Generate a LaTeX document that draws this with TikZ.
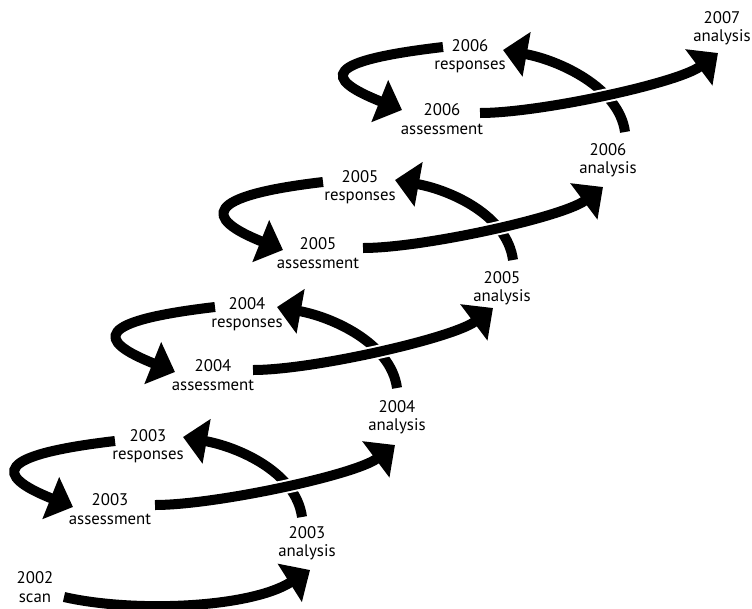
\documentclass[tikz,border=0pt]{standalone}
\usepackage{fontspec}
\setmainfont{PT Sans}
\usetikzlibrary{arrows.meta}
\tikzset{
  lbl/.style={align=center, inner sep=0pt, font=\fontsize{16.8}{18.5}\selectfont},
  flow/.style={line width=10pt, -{Triangle[length=24pt,width=44pt]}},
  crossing/.style={flow, preaction={draw=white, line width=14pt}},
}
\begin{document}
\begin{tikzpicture}[x=1pt, y=-1pt]
\useasboundingbox (0,0) rectangle (752,608);
    % labels
    \node[lbl] (scan02) at (35,587) {2002\\scan};
    \node[lbl] (ana03) at (307,543) {2003\\analysis};
    \node[lbl] (resp03) at (148,446) {2003\\responses};
    \node[lbl] (asm03) at (110,509) {2003\\assessment};
    \node[lbl] (ana04) at (397,417) {2004\\analysis};
    \node[lbl] (resp04) at (247,314) {2004\\responses};
    \node[lbl] (asm04) at (213,375) {2004\\assessment};
    \node[lbl] (ana05) at (502,288) {2005\\analysis};
    \node[lbl] (resp05) at (360,187) {2005\\responses};
    \node[lbl] (asm05) at (318,253) {2005\\assessment};
    \node[lbl] (ana06) at (608,160) {2006\\analysis};
    \node[lbl] (resp06) at (470,56) {2006\\responses};
    \node[lbl] (asm06) at (442,119) {2006\\assessment};
    \node[lbl] (ana07) at (722,28) {2007\\analysis};
    %
    \draw[flow] ([shift={(29,10)}]scan02.center) .. controls +(70,16) and +(-60,38) .. ([shift={(3,27)}]ana03.center);
    %
    % analysis -> responses
    \draw[flow] ([shift={(-5,-26)}]ana03.center) .. controls +(-6,-45) and +(55,10) .. ([shift={(35,-9)}]resp03.center);
    \draw[flow] ([shift={(0,-29)}]ana04.center) .. controls +(-6,-45) and +(55,10) .. ([shift={(30,-7)}]resp04.center);
    \draw[flow] ([shift={(11,-28)}]ana05.center) .. controls +(-6,-45) and +(55,10) .. ([shift={(35,-7)}]resp05.center);
    \draw[flow] ([shift={(17,-28)}]ana06.center) .. controls +(-6,-45) and +(55,10) .. ([shift={(33,-6)}]resp06.center);
    %
    % responses -> assessment
    \draw[flow] ([shift={(-33,-5)}]resp03.center) .. controls +(-120,14) and +(-80,-32) .. ([shift={(-37,-2)}]asm03.center);
    \draw[flow] ([shift={(-32,-7)}]resp04.center) .. controls +(-120,14) and +(-80,-32) .. ([shift={(-38,-3)}]asm04.center);
    \draw[flow] ([shift={(-37,-5)}]resp05.center) .. controls +(-120,14) and +(-80,-32) .. ([shift={(-35,-3)}]asm05.center);
    \draw[flow] ([shift={(-27,-9)}]resp06.center) .. controls +(-120,14) and +(-80,-32) .. ([shift={(-40,-9)}]asm06.center);
    %
    % assessment -> next analysis
    \draw[crossing] ([shift={(45,-4)}]asm03.center) .. controls +(60,0) and +(-40,30) .. ([shift={(-2,28)}]ana04.center);
    \draw[crossing] ([shift={(40,-5)}]asm04.center) .. controls +(60,0) and +(-40,30) .. ([shift={(-9,20)}]ana05.center);
    \draw[crossing] ([shift={(45,-5)}]asm05.center) .. controls +(60,0) and +(-40,30) .. ([shift={(-5,27)}]ana06.center);
    \draw[crossing] ([shift={(38,-6)}]asm06.center) .. controls +(60,0) and +(-40,30) .. ([shift={(-4,25)}]ana07.center);
\end{tikzpicture}
\end{document}
